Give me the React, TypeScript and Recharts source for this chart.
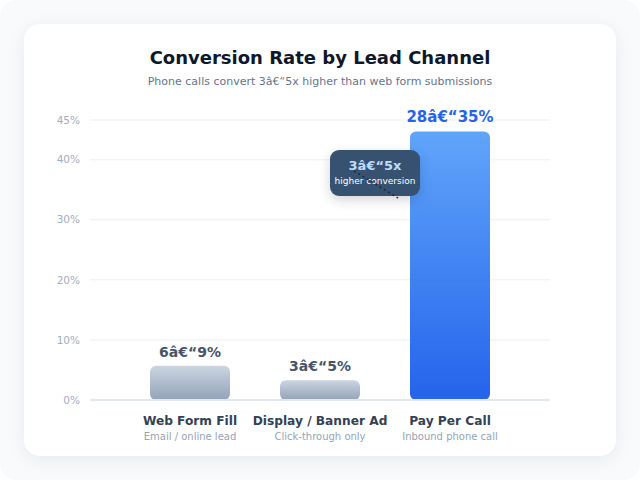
import { BarChart, Bar, XAxis, YAxis, CartesianGrid, LabelList, Cell } from 'recharts'

const channels = ['Web Form Fill', 'Display / Banner Ad', 'Pay Per Call']
const channelNotes = ['Email / online lead', 'Click-through only', 'Inbound phone call']
const conversion = [5.7, 3.3, 44.7]
const rangeLabels = ['6â€“9%', '3â€“5%', '28â€“35%']
// the top gridline sits a little above 45% in the original, but is labelled 45%
const yTicks = [0, 10, 20, 30, 40, 46.6]
const yTickLabels = ['0%', '10%', '20%', '30%', '40%', '45%']

const FONT = '"DejaVu Sans", sans-serif'
const HIGHLIGHT = 2

const data = channels.map((name, i) => ({
  name,
  note: channelNotes[i],
  value: conversion[i],
  range: rangeLabels[i],
}))

function ChannelTick(props: any) {
  const { x, y, payload, index } = props
  return (
    <g transform={`translate(${x},${y})`}>
      <text textAnchor="middle" y={17} fontSize={12.2} fontWeight={700} fill="#334155" fontFamily={FONT}>
        {payload.value}
      </text>
      <text textAnchor="middle" y={32} fontSize={10} fill="#94a3b8" fontFamily={FONT}>
        {channelNotes[index]}
      </text>
    </g>
  )
}

function RangeLabel(props: any) {
  const { x, y, width, value, index } = props
  const hi = index === HIGHLIGHT
  return (
    <text
      x={x + width / 2}
      y={y - 9}
      textAnchor="middle"
      fontSize={hi ? 15 : 14}
      fontWeight={700}
      fill={hi ? '#2563eb' : '#475569'}
      fontFamily={FONT}
    >
      {value}
    </text>
  )
}

export default function App() {
  return (
    <div
      style={{
        position: 'absolute',
        left: 0,
        top: 0,
        width: 640,
        height: 480,
        borderRadius: 16,
        background: '#f8fafc',
        fontFamily: FONT,
        overflow: 'hidden',
      }}
    >
      <div
        style={{
          position: 'absolute',
          left: 24,
          top: 24,
          width: 592,
          height: 432,
          borderRadius: 16,
          background: '#ffffff',
          boxShadow: '0 4px 18px rgba(15, 23, 42, 0.07)',
        }}
      />
      <div
        style={{
          position: 'absolute',
          left: 0,
          width: 640,
          top: 47,
          textAlign: 'center',
          fontSize: 18,
          fontWeight: 700,
          color: '#0f172a',
        }}
      >
        Conversion Rate by Lead Channel
      </div>
      <div
        style={{
          position: 'absolute',
          left: 0,
          width: 640,
          top: 75,
          textAlign: 'center',
          fontSize: 11,
          color: '#64748b',
        }}
      >
        Phone calls convert 3â€“5x higher than web form submissions
      </div>

      <div style={{ position: 'absolute', left: 0, top: 0 }}>
        <BarChart
          width={640}
          height={480}
          data={data}
          margin={{ top: 120, right: 90, bottom: 30, left: 40 }}
        >
          <defs>
            <linearGradient id="grayBar" x1="0" y1="0" x2="0" y2="1">
              <stop offset="0%" stopColor="#cbd5e1" />
              <stop offset="100%" stopColor="#94a3b8" />
            </linearGradient>
            <linearGradient id="blueBar" x1="0" y1="0" x2="0" y2="1">
              <stop offset="0%" stopColor="#60a5fa" />
              <stop offset="100%" stopColor="#2563eb" />
            </linearGradient>
          </defs>
          <CartesianGrid vertical={false} stroke="#f1f5f9" strokeWidth={1.5} />
          <XAxis
            dataKey="name"
            padding={{ left: 35, right: 35 }}
            height={50}
            axisLine={{ stroke: '#e2e8f0', strokeWidth: 2 }}
            tickLine={false}
            tick={<ChannelTick />}
            interval={0}
          />
          <YAxis
            width={50}
            domain={[0, 46.6]}
            ticks={yTicks}
            axisLine={false}
            tickLine={false}
            tickMargin={4}
            tickFormatter={(v: number, i: number) => yTickLabels[i] ?? `${v}%`}
            tick={{ fontSize: 10.5, fill: '#a0aec0', fontFamily: FONT }}
          />
          <Bar dataKey="value" barSize={80} radius={6} isAnimationActive={false}>
            {data.map((d, i) => (
              <Cell key={d.name} fill={i === HIGHLIGHT ? 'url(#blueBar)' : 'url(#grayBar)'} />
            ))}
            <LabelList dataKey="range" content={<RangeLabel />} />
          </Bar>
        </BarChart>
      </div>

      {/* callout */}
      <div
        style={{
          position: 'absolute',
          left: 330,
          top: 150,
          width: 90,
          height: 46,
          borderRadius: 9,
          background: '#375270',
          boxShadow: '0 4px 12px rgba(15, 23, 42, 0.18)',
          textAlign: 'center',
        }}
      >
        <div style={{ fontSize: 13, fontWeight: 700, color: '#bfdbfe', marginTop: 8, lineHeight: '16px' }}>
          3â€“5x
        </div>
        <div style={{ fontSize: 9, color: '#ffffff', lineHeight: '12px', marginTop: 1 }}>higher conversion</div>
      </div>
      <svg style={{ position: 'absolute', left: 0, top: 0 }} width={640} height={480}>
        <line x1={354} y1={171} x2={398} y2={198} stroke="#1e293b" strokeWidth={1.5} strokeDasharray="2 3" />
      </svg>
    </div>
  )
}
